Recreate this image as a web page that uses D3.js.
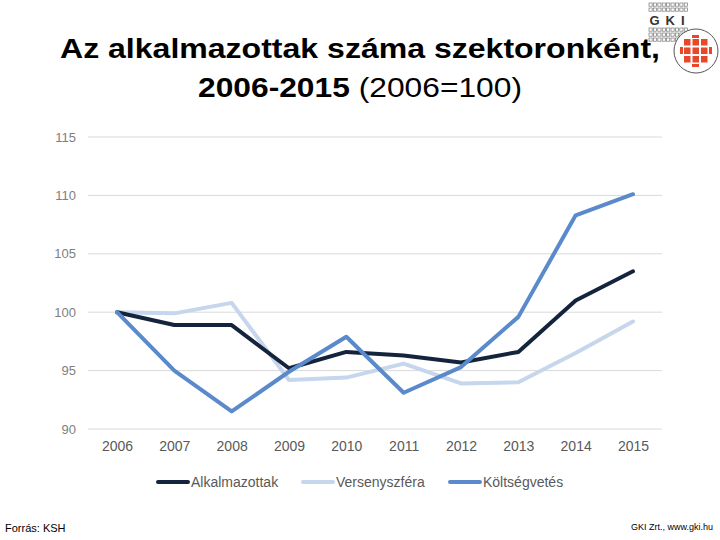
<!DOCTYPE html>
<html>
<head>
<meta charset="utf-8">
<script src="https://cdn.jsdelivr.net/npm/d3@7"></script>
<style>
  body { margin: 0; background: #fff; }
  svg { display: block; font-family: "Liberation Sans", Arial, sans-serif; }
</style>
</head>
<body>
<svg id="chart" width="720" height="540"></svg>
<script>
// chart data
const years = [2006, 2007, 2008, 2009, 2010, 2011, 2012, 2013, 2014, 2015];
const alkalmazottak = [100, 98.9, 98.9, 95.2, 96.6, 96.3, 95.7, 96.6, 101.0, 103.5];
const versenyszfera = [100, 99.9, 100.8, 94.2, 94.4, 95.6, 93.9, 94.0, 96.5, 99.2];
const koltsegvetes = [100, 95.0, 91.5, 94.9, 97.9, 93.1, 95.3, 99.6, 108.3, 110.1];
const yTicks = [90, 95, 100, 105, 110, 115];

const seriesNames = ["Alkalmazottak", "Versenyszféra", "Költségvetés"];
const seriesColors = ["#15243d", "#c6d6ec", "#5a8acb"];
const series = [alkalmazottak, versenyszfera, koltsegvetes];

const svg = d3.select("#chart");

// title (two lines, slightly stretched like the slide)
svg.append("text")
    .attr("x", 60).attr("y", 58)
    .attr("font-size", 28)
    .attr("font-weight", "bold")
    .attr("fill", "#000")
    .attr("textLength", 600)
    .attr("lengthAdjust", "spacingAndGlyphs")
    .text("Az alkalmazottak száma szektoronként,");
const t2 = svg.append("text")
    .attr("x", 198).attr("y", 97)
    .attr("font-size", 28)
    .attr("fill", "#000")
    .attr("textLength", 324)
    .attr("lengthAdjust", "spacingAndGlyphs");
t2.append("tspan").attr("font-weight", "bold").text("2006-2015");
t2.append("tspan").text(" (2006=100)");

// scales
const x = d3.scalePoint().domain(years).range([117, 633]);
const y = d3.scaleLinear().domain([90, 115]).range([429, 137]);

// gridlines
svg.append("g")
    .selectAll("line")
    .data(yTicks)
    .join("line")
    .attr("x1", 88).attr("x2", 662)
    .attr("y1", d => y(d)).attr("y2", d => y(d))
    .attr("stroke", "#d9d9d9")
    .attr("stroke-width", 1);

// y axis labels
const yAxis = svg.append("g")
    .attr("transform", "translate(76,0)")
    .call(d3.axisLeft(y).tickValues(yTicks).tickSize(0).tickPadding(0));
yAxis.select(".domain").remove();
yAxis.selectAll("text")
    .attr("font-size", 13)
    .attr("fill", "#7f7f7f")
    .attr("font-family", "Liberation Sans, Arial, sans-serif");

// x axis labels
const xAxis = svg.append("g")
    .attr("transform", "translate(0,441)")
    .call(d3.axisBottom(x).tickSize(0).tickPadding(0));
xAxis.select(".domain").remove();
xAxis.selectAll("text")
    .attr("font-size", 14)
    .attr("fill", "#595959")
    .attr("font-family", "Liberation Sans, Arial, sans-serif");

// lines
const line = d3.line()
    .x((d, i) => x(years[i]))
    .y(d => y(d));

// draw light first, then dark, then mid blue on top
const order = [1, 0, 2];
order.forEach(k => {
    svg.append("path")
        .datum(series[k])
        .attr("d", line)
        .attr("fill", "none")
        .attr("stroke", seriesColors[k])
        .attr("stroke-width", 4)
        .attr("stroke-linejoin", "round")
        .attr("stroke-linecap", "round");
});

// legend
const legendX = [158, 303, 450];
seriesNames.forEach((name, i) => {
    const g = svg.append("g").attr("transform", `translate(${legendX[i]},482)`);
    g.append("line")
        .attr("x1", 0).attr("x2", 30)
        .attr("y1", 0).attr("y2", 0)
        .attr("stroke", seriesColors[i])
        .attr("stroke-width", 4)
        .attr("stroke-linecap", "round");
    g.append("text")
        .attr("x", 33).attr("y", 5)
        .attr("font-size", 14)
        .attr("fill", "#595959")
        .text(name);
});

// footer
svg.append("text")
    .attr("x", 5).attr("y", 532)
    .attr("font-size", 11)
    .attr("fill", "#000")
    .text("Forrás: KSH");
svg.append("text")
    .attr("x", 713).attr("y", 530)
    .attr("text-anchor", "end")
    .attr("font-size", 9)
    .attr("fill", "#000")
    .text("GKI Zrt., www.gki.hu");

// GKI logo
const logo = svg.append("g");
const gridRows = [3, 8, 28, 33, 38];
gridRows.forEach(gy => {
    d3.range(9).forEach(i => {
        logo.append("rect")
            .attr("x", 649 + i * 4.4).attr("y", gy)
            .attr("width", 3.2).attr("height", 3.2)
            .attr("fill", "none")
            .attr("stroke", "#777")
            .attr("stroke-width", 0.7);
    });
});
logo.append("text")
    .attr("x", 670).attr("y", 25)
    .attr("text-anchor", "middle")
    .attr("font-size", 13)
    .attr("font-weight", "bold")
    .attr("letter-spacing", 6)
    .attr("fill", "#333")
    .text("GKI");
logo.append("circle")
    .attr("cx", 696).attr("cy", 51).attr("r", 22)
    .attr("fill", "#fff")
    .attr("stroke", "#555")
    .attr("stroke-width", 1);
d3.range(3).forEach(r => {
    d3.range(3).forEach(c => {
        logo.append("rect")
            .attr("x", 684 + c * 8.5).attr("y", 39 + r * 8.5)
            .attr("width", 6.5).attr("height", 6.5)
            .attr("fill", "#e8472a");
    });
});
logo.append("rect").attr("x", 680).attr("y", 47).attr("width", 3).attr("height", 7).attr("fill", "#e8472a");
logo.append("rect").attr("x", 709).attr("y", 47).attr("width", 3).attr("height", 7).attr("fill", "#e8472a");
logo.append("rect").attr("x", 692).attr("y", 35).attr("width", 7).attr("height", 3).attr("fill", "#e8472a");
logo.append("rect").attr("x", 692).attr("y", 64).attr("width", 7).attr("height", 3).attr("fill", "#e8472a");
</script>
</body>
</html>
